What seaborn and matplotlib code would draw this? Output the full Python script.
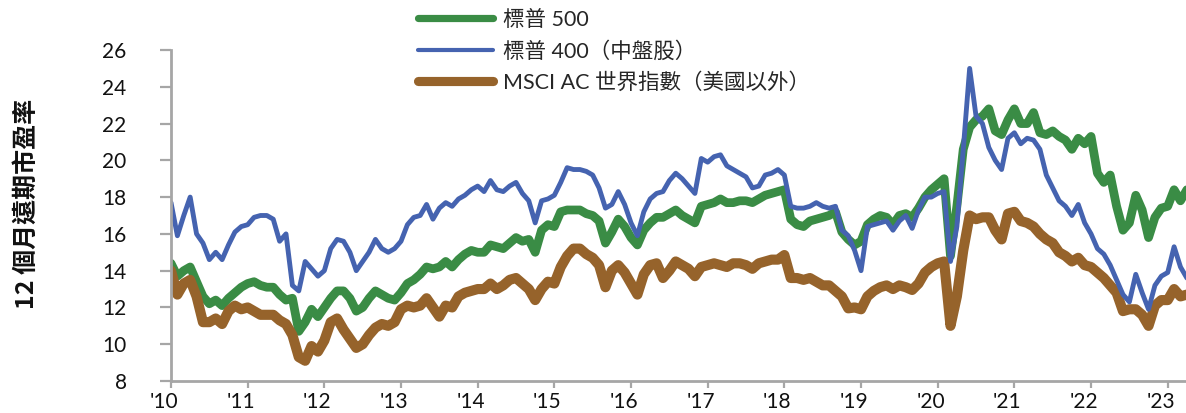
import numpy as np
import pandas as pd
import matplotlib
matplotlib.use("Agg")
import matplotlib.pyplot as plt
import matplotlib.transforms as mtrans
from matplotlib.lines import Line2D
import seaborn as sns

# ---------------- data (monthly, starting Jan 2010) ----------------
start_year = 2010
sp500 = [
    14.4, 13.7, 14.0, 14.2, 13.4, 12.6, 12.2, 12.4, 12.1, 12.5, 12.8, 13.1,
    13.3, 13.4, 13.2, 13.1, 13.1, 12.7, 12.4, 12.5, 10.7, 11.2, 11.9, 11.5,
    12.0, 12.5, 12.9, 12.9, 12.5, 11.8, 12.0, 12.5, 12.9, 12.7, 12.5, 12.4,
    12.8, 13.3, 13.5, 13.8, 14.2, 14.1, 14.2, 14.5, 14.2, 14.6, 14.9, 15.1,
    15.0, 15.0, 15.4, 15.3, 15.2, 15.5, 15.8, 15.6, 15.7, 15.0, 16.2, 16.5,
    16.4, 17.2, 17.3, 17.3, 17.3, 17.1, 17.0, 16.7, 15.5, 16.1, 16.8, 16.4,
    15.8, 15.4, 16.2, 16.6, 16.9, 16.9, 17.1, 17.3, 17.0, 16.8, 16.6, 17.5,
    17.6, 17.7, 17.9, 17.7, 17.7, 17.8, 17.8, 17.7, 17.9, 18.1, 18.2, 18.3,
    18.4, 16.8, 16.5, 16.4, 16.7, 16.8, 16.9, 17.0, 17.2, 16.1, 15.7, 15.4,
    15.6, 16.5, 16.8, 17.0, 16.9, 16.5, 17.0, 17.1, 16.9, 17.4, 18.0, 18.4,
    18.7, 19.0, 14.8, 17.5, 20.6, 21.8, 22.2, 22.4, 22.8, 21.6, 21.4, 22.2,
    22.8, 22.0, 22.0, 22.6, 21.5, 21.4, 21.6, 21.3, 21.1, 20.6, 21.2, 20.9,
    21.3, 19.3, 18.8, 19.2, 17.5, 16.2, 16.6, 18.1, 17.3, 15.8, 16.9, 17.4,
    17.5, 18.4, 17.8, 18.4,
]
sp400 = [
    17.7, 15.9, 17.0, 18.0, 16.0, 15.5, 14.6, 15.0, 14.6, 15.4, 16.1, 16.4,
    16.5, 16.9, 17.0, 17.0, 16.8, 15.6, 16.0, 13.2, 12.9, 14.5, 14.1, 13.7,
    14.0, 15.2, 15.7, 15.6, 15.0, 14.0, 14.5, 15.0, 15.7, 15.2, 15.0, 15.2,
    15.6, 16.5, 16.9, 17.0, 17.6, 16.8, 17.4, 17.7, 17.5, 17.9, 18.1, 18.4,
    18.6, 18.3, 18.9, 18.4, 18.3, 18.6, 18.8, 18.2, 17.8, 16.6, 17.8, 17.9,
    18.1, 18.8, 19.6, 19.5, 19.5, 19.4, 19.2, 18.5, 17.4, 17.6, 18.3, 17.6,
    16.6, 15.9, 17.2, 17.9, 18.2, 18.3, 18.9, 19.3, 19.0, 18.6, 18.2, 20.1,
    19.9, 20.2, 20.3, 19.7, 19.5, 19.3, 19.1, 18.5, 18.6, 19.2, 19.3, 19.5,
    19.2, 17.5, 17.4, 17.4, 17.5, 17.7, 17.5, 17.4, 17.5, 16.2, 15.9, 15.1,
    14.0, 16.4, 16.5, 16.6, 16.7, 16.2, 16.7, 17.0, 16.3, 17.3, 18.0, 18.0,
    18.2, 18.3, 14.5, 16.4, 20.6, 25.0, 22.4, 22.0, 20.7, 20.0, 19.5, 21.2,
    21.5, 20.9, 21.2, 21.1, 20.6, 19.2, 18.5, 17.8, 17.5, 17.0, 17.6, 16.6,
    16.0, 15.2, 14.9, 14.3, 13.5, 12.7, 12.3, 13.8, 12.8, 11.9, 13.2, 13.7,
    13.9, 15.3, 14.2, 13.6,
]
msci_acwi_ex_us = [
    14.0, 12.7, 13.3, 13.5, 12.6, 11.2, 11.2, 11.4, 11.1, 11.8, 12.1, 11.9,
    12.0, 11.8, 11.6, 11.6, 11.6, 11.3, 11.1, 10.5, 9.3, 9.1, 9.9, 9.6,
    10.2, 11.2, 11.4, 10.8, 10.3, 9.8, 10.0, 10.5, 10.9, 11.1, 11.0, 11.2,
    11.9, 12.1, 12.0, 12.1, 12.5, 12.0, 11.5, 12.1, 12.0, 12.6, 12.8, 12.9,
    13.0, 13.0, 13.3, 13.0, 13.2, 13.5, 13.6, 13.3, 13.0, 12.4, 13.0, 13.4,
    13.3, 14.2, 14.8, 15.2, 15.2, 14.9, 14.7, 14.3, 13.1, 14.0, 14.3, 13.9,
    13.3, 12.7, 13.8, 14.3, 14.4, 13.6, 14.0, 14.5, 14.3, 14.1, 13.7, 14.2,
    14.3, 14.4, 14.3, 14.2, 14.4, 14.4, 14.3, 14.1, 14.4, 14.5, 14.6, 14.6,
    14.85, 13.6, 13.6, 13.5, 13.6, 13.4, 13.2, 13.2, 12.9, 12.6, 11.95, 12.0,
    11.9, 12.6, 12.9, 13.1, 13.2, 13.0, 13.2, 13.1, 12.95, 13.3, 13.9, 14.2,
    14.4, 14.5, 11.0, 12.6, 15.1, 17.0, 16.8, 16.9, 16.9, 16.2, 15.7, 17.1,
    17.2, 16.7, 16.6, 16.4, 16.0, 15.7, 15.5, 15.0, 14.8, 14.5, 14.7, 14.3,
    14.2, 13.9, 13.6, 13.2, 12.8, 11.8, 11.9, 11.9, 11.6, 11.0, 12.1, 12.4,
    12.4, 13.0, 12.6, 12.7,
]
series_names = ["標普 500", "標普 400（中盤股）", "MSCI AC 世界指數（美國以外）"]
y_label = "12 個月遠期市盈率"
y_ticks = [8, 10, 12, 14, 16, 18, 20, 22, 24, 26]
x_tick_years = list(range(2010, 2024))
x_tick_labels = ["'10", "'11", "'12", "'13", "'14", "'15", "'16", "'17",
                 "'18", "'19", "'20", "'21", "'22", "'23"]

# ---------------- styling ----------------
colors = {series_names[0]: "#3a8c45",
          series_names[1]: "#4563b0",
          series_names[2]: "#96632b"}
widths = {series_names[0]: 6.3, series_names[1]: 3.5, series_names[2]: 7.3}
legend_widths = {series_names[0]: 5.2, series_names[1]: 3.0, series_names[2]: 6.6}
spine_color = "#a6a6a6"

n = len(sp500)
dates = start_year + np.arange(n) / 12.0
df = pd.DataFrame({
    "date": np.tile(dates, 3),
    "value": sp500 + sp400 + msci_acwi_ex_us,
    "series": np.repeat(series_names, n),
})

sns.set_theme(style="white")
plt.rcParams["font.family"] = ["Lato", "Noto Sans CJK TC", "DejaVu Sans"]

W, H = 1186, 413
fig = plt.figure(figsize=(W / 100, H / 100), dpi=100)
ax = fig.add_axes([171 / W, 32 / H, (W - 171) / W, 331 / H])

draw_order = [series_names[0], series_names[2], series_names[1]]
for name in draw_order:
    sns.lineplot(data=df[df["series"] == name], x="date", y="value",
                 color=colors[name], linewidth=widths[name], ax=ax,
                 legend=False, solid_capstyle="round", solid_joinstyle="round")

ax.set_xlim(2010, 2010 + (W - 171) / 76.67)
ax.set_ylim(8, 26)
ax.set_yticks(y_ticks)
ax.set_yticklabels([str(t) for t in y_ticks])
ax.set_xticks(x_tick_years)
ax.set_xticklabels(x_tick_labels)
ax.set_xlabel("")
ax.set_ylabel("")

for s in ["top", "right"]:
    ax.spines[s].set_visible(False)
for s in ["left", "bottom"]:
    ax.spines[s].set_color(spine_color)
    ax.spines[s].set_linewidth(2.0)

ax.tick_params(axis="y", direction="out", length=8, width=1.6, color=spine_color,
               pad=24, labelsize=15, labelcolor="#111111", left=True)
ax.tick_params(axis="x", direction="out", length=5, width=1.6, color=spine_color,
               pad=3, labelsize=15, labelcolor="#111111", bottom=True)

offset = mtrans.ScaledTranslation(-7 / 100, 0, fig.dpi_scale_trans)
for lab in ax.get_xticklabels():
    lab.set_transform(lab.get_transform() + offset)

fig.text(27 / W, 1 - 204 / H, y_label, rotation=90, ha="center", va="center",
         fontsize=18, fontweight="bold", color="#111111",
         family=["Noto Sans CJK TC", "DejaVu Sans"])

handles = [Line2D([0], [0], color=colors[nm], linewidth=legend_widths[nm],
                  solid_capstyle="round") for nm in series_names]
fig.legend(handles, series_names, loc="upper left",
           bbox_to_anchor=(418 / W, 1 - 10 / H), frameon=False,
           handlelength=3.5, handletextpad=0.45,
           labelspacing=0.5, borderpad=0, borderaxespad=0,
           prop={"family": ["Lato", "Noto Sans CJK TC", "DejaVu Sans"], "size": 15.5})

fig.savefig("out.png", dpi=100)
